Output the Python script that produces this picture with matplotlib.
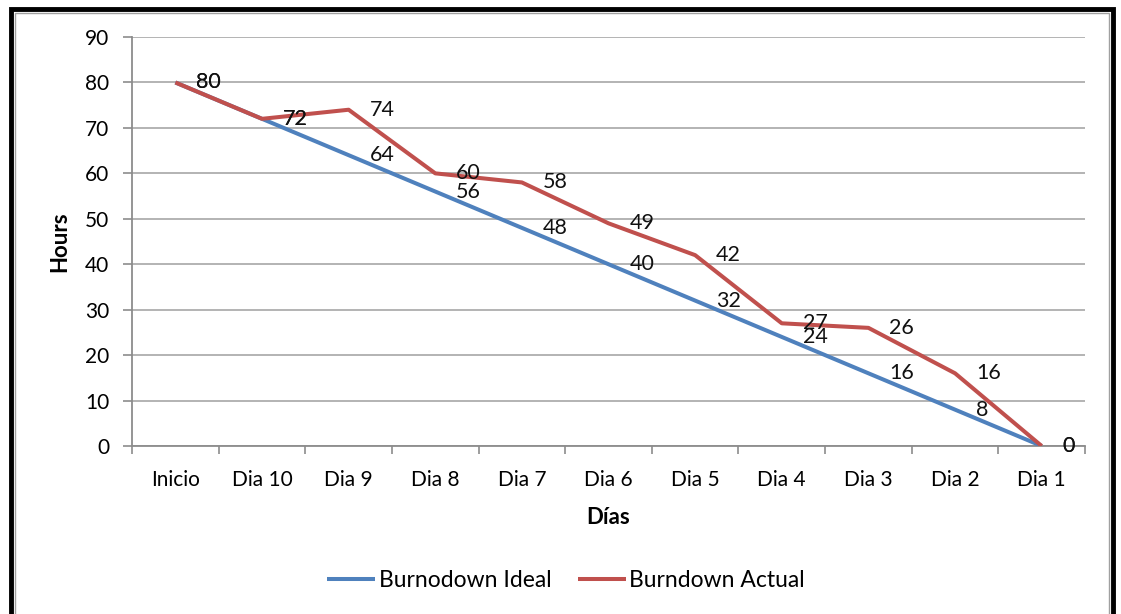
import matplotlib
matplotlib.use("Agg")
import matplotlib.pyplot as plt
from matplotlib.patches import Rectangle

plt.rcParams["font.family"] = ["Lato", "DejaVu Sans"]

# sprint burndown data
dias = ["Inicio", "Dia 10", "Dia 9", "Dia 8", "Dia 7", "Dia 6",
        "Dia 5", "Dia 4", "Dia 3", "Dia 2", "Dia 1"]
ideal = [80, 72, 64, 56, 48, 40, 32, 24, 16, 8, 0]
actual = [80, 72, 74, 60, 58, 49, 42, 27, 26, 16, 0]

BLUE = "#4F81BD"
RED = "#C0504D"
GRID = "#B3B3B3"
AXIS = "#8C8C8C"

fig = plt.figure(figsize=(11.21, 6.14), dpi=100)
ax = fig.add_axes([0.1178, 0.2736, 0.8501, 0.6661])

x = list(range(len(dias)))
ax.plot(x, ideal, color=BLUE, lw=2.9, label="Burnodown Ideal",
        solid_capstyle="butt", zorder=3)
ax.plot(x, actual, color=RED, lw=2.9, label="Burndown Actual",
        solid_capstyle="butt", zorder=4)

# value labels to the right of each point
for series in (ideal, actual):
    for xi, v in zip(x, series):
        ax.annotate(str(v), (xi, v), xytext=(15, 0), textcoords="offset points",
                    ha="left", va="center", fontsize=15.5, color="#111111",
                    zorder=5)

ax.set_xlim(-0.5, len(dias) - 0.5)
ax.set_ylim(0, 90)
ax.set_yticks(range(0, 91, 10))
ax.yaxis.grid(True, color=GRID, lw=1.4)
ax.set_axisbelow(True)

# category boundaries carry the tick marks, centers carry the labels
ax.set_xticks([i - 0.5 for i in range(len(dias) + 1)])
ax.set_xticklabels([])
ax.set_xticks(x, minor=True)
ax.set_xticklabels(dias, minor=True)
ax.tick_params(axis="x", which="major", length=6, width=1.2, color=AXIS,
               direction="out")
ax.tick_params(axis="x", which="minor", length=0, pad=17, labelsize=15)
ax.tick_params(axis="y", length=6.5, width=1.2, color=AXIS, pad=10,
               labelsize=15)

for side in ("top", "right"):
    ax.spines[side].set_visible(False)
for side in ("left", "bottom"):
    ax.spines[side].set_color(AXIS)
    ax.spines[side].set_linewidth(1.3)

ax.set_ylabel("Hours", fontsize=16, fontweight="bold")
ax.yaxis.set_label_coords(-0.065, 0.5)
ax.set_xlabel("Días", fontsize=16, fontweight="bold")
ax.xaxis.set_label_coords(0.5, -0.149)

fig.legend(loc="center", bbox_to_anchor=(0.505, 0.054), ncol=2, frameon=False,
           fontsize=16.5, handlelength=2.1, handletextpad=0.15,
           columnspacing=1.15)

# outer frame around the chart
fig.patches.append(Rectangle((11 / 1121, -0.05), 1102 / 1121, 1.05 - 9 / 614,
                             transform=fig.transFigure, fill=False,
                             edgecolor="black", lw=3.5, zorder=10))
fig.patches.append(Rectangle((15 / 1121, -0.05), 1094 / 1121, 1.05 - 13 / 614,
                             transform=fig.transFigure, fill=False,
                             edgecolor="#A0A0A0", lw=1.0, zorder=10))

fig.savefig("out.png", dpi=100)
